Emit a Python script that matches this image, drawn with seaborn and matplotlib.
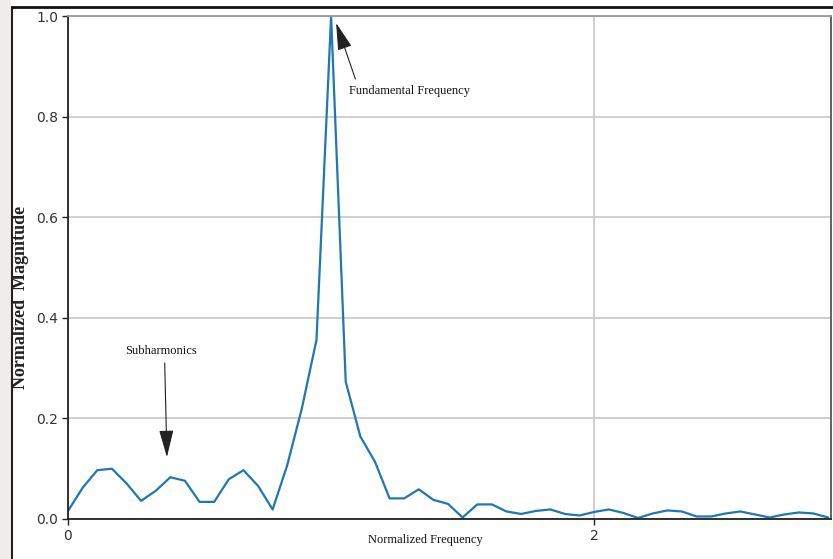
import numpy as np
import pandas as pd
import seaborn as sns
import matplotlib
matplotlib.use("Agg")
import matplotlib.pyplot as plt
from matplotlib.lines import Line2D
from matplotlib.patches import Rectangle

# ---- data ----
step = 1.0 / 18.0
magnitude = [0.016, 0.062, 0.097, 0.100, 0.071, 0.036, 0.056, 0.083, 0.076, 0.034,
             0.034, 0.079, 0.097, 0.066, 0.019, 0.107, 0.220, 0.356, 1.000, 0.273,
             0.164, 0.114, 0.041, 0.041, 0.059, 0.038, 0.030, 0.003, 0.029, 0.029,
             0.015, 0.010, 0.016, 0.019, 0.010, 0.007, 0.014, 0.019, 0.012, 0.002,
             0.011, 0.017, 0.015, 0.005, 0.005, 0.011, 0.015, 0.009, 0.003, 0.009,
             0.013, 0.011, 0.003]
frequency = [i * step for i in range(len(magnitude))]
x_ticks = [0, 2]
y_ticks = [0.0, 0.2, 0.4, 0.6, 0.8, 1.0]

df = pd.DataFrame({"Normalized Frequency": frequency, "Normalized Magnitude": magnitude})

sns.set_theme(style="whitegrid")
W, H = 833, 559
fig = plt.figure(figsize=(W / 100, H / 100), dpi=100)
fig.patch.set_facecolor("white")

# screenshot-like frame
fig.add_artist(Rectangle((0, 0), 11 / W, 1, transform=fig.transFigure,
                         facecolor="#efedeb", edgecolor="none", zorder=0))
fig.add_artist(Line2D([12 / W, 12 / W], [0, 1 - 7 / H], transform=fig.transFigure,
                      color="#222222", lw=1.5))
fig.add_artist(Line2D([12 / W, 1], [1 - 7 / H, 1 - 7 / H], transform=fig.transFigure,
                      color="#111111", lw=2.0, zorder=5))

ax = fig.add_axes([68 / W, (H - 519) / H, (831 - 68) / W, (519 - 16) / H])
ax.set_facecolor("white")

sns.lineplot(data=df, x="Normalized Frequency", y="Normalized Magnitude", ax=ax,
             color="#1f77b4", lw=1.6)

ax.set_xlim(0, 2.9)
ax.set_ylim(0, 1.0)
ax.set_xticks(x_ticks)
ax.set_xticklabels([str(t) for t in x_ticks])
ax.set_yticks(y_ticks)
ax.set_yticklabels([f"{t:.1f}" for t in y_ticks])
ax.grid(True, color="#cccccc", lw=1.3)
ax.tick_params(axis="both", which="major", length=4, width=1, color="#222222",
               labelsize=10, labelcolor="#333333", direction="out", pad=3,
               bottom=True, left=True)

for side in ["left", "bottom"]:
    ax.spines[side].set_color("#222222")
    ax.spines[side].set_linewidth(1.3)
ax.spines["top"].set_color("#999999")
ax.spines["top"].set_linewidth(1.3)
ax.spines["right"].set_color("#555555")
ax.spines["right"].set_linewidth(1.3)

ax.set_xlabel("")
ax.set_ylabel("")

serif = ["Liberation Serif", "DejaVu Serif"]
fig.text(425 / W, 1 - 540 / H, "Normalized Frequency", family=serif, fontsize=9,
         ha="center", va="center", color="#111111")
fig.text(21 / W, 1 - 297 / H, "Normalized  Magnitude", family=serif, fontsize=13,
         fontweight="bold", rotation=90, ha="center", va="center", color="#222222")

arrow = dict(arrowstyle="-|>,head_length=1.7,head_width=0.45", mutation_scale=10,
             color="#222222", lw=0.8, shrinkA=2, shrinkB=0)
ax.annotate("Fundamental Frequency", xy=(1.019, 0.986), xytext=(1.068, 0.851),
            family=serif, fontsize=9, ha="left", va="center", color="#111111",
            arrowprops=dict(arrow, relpos=(0.07, 1.0)))
ax.annotate("Subharmonics", xy=(0.376, 0.123), xytext=(0.217, 0.334),
            family=serif, fontsize=9, ha="left", va="center", color="#111111",
            arrowprops=dict(arrow, relpos=(0.55, 0.0)))

fig.savefig("out.png", dpi=100)
